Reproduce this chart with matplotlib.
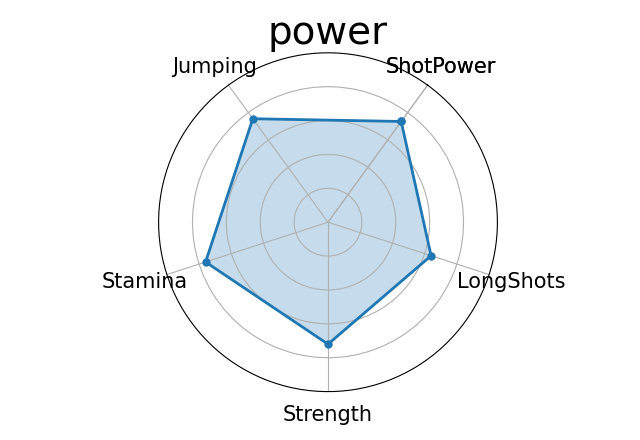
import matplotlib
matplotlib.use("Agg")
import matplotlib.pyplot as plt
import numpy as np

# attributes, counter-clockwise starting from the upper right
categories = ['ShotPower', 'Jumping', 'Stamina', 'Strength', 'LongShots']
values = [73.5, 75.5, 76, 72, 64]
title = 'power'

n = len(categories)
angles = np.linspace(0, 2 * np.pi, n, endpoint=False)
angles = np.concatenate((angles, [angles[0]]))
vals = np.concatenate((values, [values[0]]))
labels = categories + [categories[0]]

fig = plt.figure(figsize=(6.4, 4.4), dpi=100)
ax = fig.add_subplot(111, polar=True)
ax.set_theta_offset(np.deg2rad(54))
ax.plot(angles, vals, 'o-', linewidth=2, color='#1f77b4', markersize=5)
ax.fill(angles, vals, alpha=0.25, color='#1f77b4')
ax.set_thetagrids(np.degrees(angles), labels, fontsize=15)
ax.tick_params(axis='x', pad=6)
ax.set_ylim(0, 100)
ax.set_yticks([20, 40, 60, 80])
ax.set_yticklabels([])
ax.set_title(title, fontsize=28)
ax.grid(True)

plt.savefig('out.png')
